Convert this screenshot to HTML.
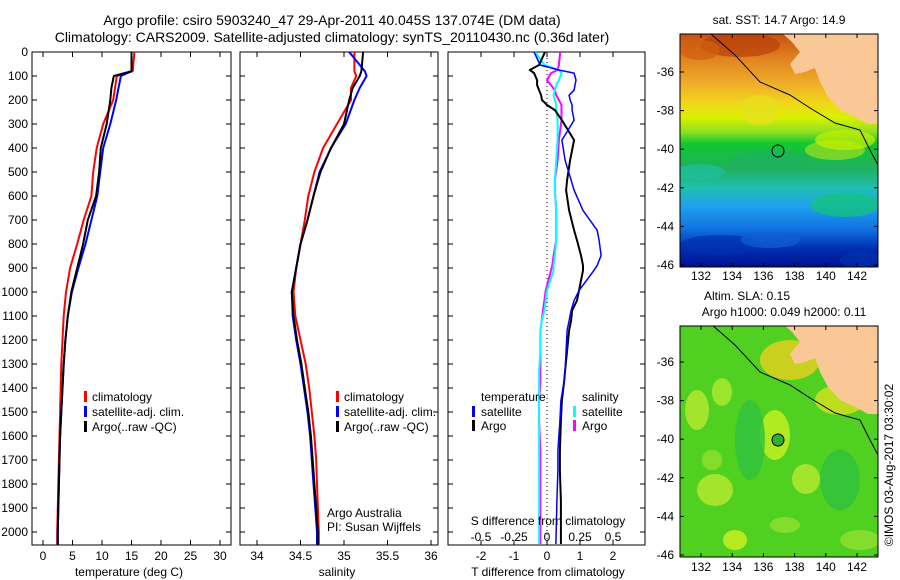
<!DOCTYPE html>
<html><head><meta charset="utf-8"><style>
html,body{margin:0;padding:0;background:#fff;width:900px;height:580px;overflow:hidden}
svg text{font-family:"Liberation Sans",sans-serif;font-size:12px;fill:#000}
</style></head><body>
<svg id="fig" width="900" height="580" viewBox="0 0 900 580" xmlns="http://www.w3.org/2000/svg">
<defs>
<linearGradient id="sstg" x1="0" y1="0" x2="0" y2="1">
<stop offset="0" stop-color="#c85010"/><stop offset="0.1" stop-color="#e08020"/><stop offset="0.22" stop-color="#f0b028"/><stop offset="0.3" stop-color="#f0d818"/><stop offset="0.36" stop-color="#d8f000"/><stop offset="0.42" stop-color="#90e020"/><stop offset="0.47" stop-color="#10c830"/><stop offset="0.58" stop-color="#20b060"/><stop offset="0.66" stop-color="#20c0b0"/><stop offset="0.74" stop-color="#20a0f0"/><stop offset="0.84" stop-color="#1070e0"/><stop offset="0.92" stop-color="#0030b0"/><stop offset="1" stop-color="#001090"/>
</linearGradient>
<clipPath id="c1"><rect x="32" y="52" width="199" height="493"/></clipPath>
<clipPath id="c2"><rect x="240" y="52" width="198" height="493"/></clipPath>
<clipPath id="c3"><rect x="448" y="52" width="197" height="493"/></clipPath>
<clipPath id="m1"><rect x="680" y="34" width="198" height="233"/></clipPath>
<clipPath id="m2"><rect x="680" y="326" width="198" height="231"/></clipPath>
</defs>
<rect width="900" height="580" fill="#fff"/>
<text x="332" y="25" text-anchor="middle" style="font-size:14px">Argo profile: csiro 5903240_47 29-Apr-2011 40.045S 137.074E (DM data)</text>
<text x="332" y="42" text-anchor="middle" style="font-size:14px">Climatology: CARS2009. Satellite-adjusted climatology: synTS_20110430.nc (0.36d later)</text>
<g id="plots"></g>
<g id="maps"></g>
</svg>
<script>
// ---- profile data ----
const tDepth = [0,80,100,150,200,300,400,500,600,700,800,900,1000,1100,1200,1300,1400,1500,1600,1700,1800,1900,2000,2060];
const tempClim = [15.5,15.2,12.5,12.2,11.9,10.2,9.1,8.5,8.2,6.9,5.8,4.6,3.9,3.5,3.3,3.1,3.0,2.9,2.8,2.7,2.6,2.5,2.4,2.4];
const tempSat = [15.0,15.0,13.2,12.8,12.4,11.4,10.2,9.7,9.2,8.2,7.2,6.0,4.9,4.2,3.8,3.5,3.3,3.1,2.9,2.8,2.7,2.6,2.5,2.5];
const tempArgo = [15.0,15.0,12.0,11.6,11.4,10.8,9.8,9.5,9.0,7.6,6.8,5.8,4.8,4.2,3.8,3.5,3.3,3.1,2.9,2.8,2.7,2.6,2.5,2.5];
const salClim = [35.12,35.12,35.14,35.08,35.08,34.92,34.76,34.66,34.59,34.55,34.5,34.45,34.42,34.44,34.5,34.56,34.6,34.63,34.66,34.68,34.69,34.7,34.71,34.71];
const salSat = [35.06,35.24,35.26,35.18,35.12,35.02,34.85,34.72,34.65,34.58,34.5,34.45,34.4,34.41,34.45,34.5,34.54,34.58,34.61,34.63,34.65,34.67,34.69,34.69];
const salArgo = [35.22,35.2,35.18,35.1,35.06,35.0,34.85,34.73,34.65,34.58,34.5,34.45,34.4,34.42,34.46,34.51,34.55,34.59,34.62,34.64,34.66,34.68,34.7,34.7];
const dDepth = [0,54,75,88,117,138,159,180,200,221,242,284,367,451,534,576,660,743,785,848,889,910,994,1035,1077,1119,1161,1244,1328,1370,1453,1537,1662,1745,1871,2050];
const tDiffArgo = [-0.06,-0.24,-0.52,-0.39,-0.3,-0.3,-0.24,-0.18,-0.15,0,0.24,0.45,0.82,0.7,0.61,0.58,0.67,0.82,0.91,1.03,1.09,1.09,0.97,0.91,0.76,0.73,0.67,0.61,0.55,0.52,0.45,0.42,0.39,0.39,0.42,0.42];
const tDiffSat = [-0.39,-0.21,0.36,0.82,0.88,0.85,0.82,0.67,0.7,0.76,0.76,0.82,0.45,0.55,0.73,0.82,1.09,1.52,1.58,1.64,1.52,1.42,0.97,0.82,0.73,0.67,0.61,0.58,0.55,0.52,0.42,0.39,0.33,0.33,0.3,0.27];
const sDiffArgo = [0.1,0.09,0.08,0.03,0,0.03,0.06,0.07,0.09,0.11,0.11,0.11,0.09,0.08,0.06,0.06,0.07,0.07,0.07,0.05,0.04,0.03,-0.01,-0.02,-0.03,-0.04,-0.05,-0.05,-0.05,-0.05,-0.06,-0.06,-0.05,-0.05,-0.05,-0.05];
const sDiffSat = [-0.09,-0.02,0.09,0.11,0.09,0.07,0.06,0.05,0.06,0.07,0.07,0.08,0.08,0.07,0.06,0.06,0.07,0.07,0.07,0.06,0.05,0.05,0,-0.01,-0.02,-0.04,-0.05,-0.05,-0.06,-0.06,-0.06,-0.06,-0.06,-0.06,-0.06,-0.06];
const depthTicks = [0,100,200,300,400,500,600,700,800,900,1000,1100,1200,1300,1400,1500,1600,1700,1800,1900,2000];
const tempTicks = [0,5,10,15,20,25,30];
const salTicks = [34,34.5,35,35.5,36];
const tdTicks = [-2,-1,0,1,2];
const sdTicks = [-0.5,-0.25,0,0.25,0.5];
const latTicks = [-36,-38,-40,-42,-44,-46];
const lonTicks = [132,134,136,138,140,142];

const NS="http://www.w3.org/2000/svg";
function mk(tag,attrs,parent){const e=document.createElementNS(NS,tag);for(const k in attrs)e.setAttribute(k,attrs[k]);parent.appendChild(e);return e;}
const plots=document.getElementById('plots');
const PB=545;
const yD = d => 52 + d*0.24;
const xT = t => 43 + t*5.9;
const xS = s => 257 + (s-34)*87;
const xTD = t => 547 + t*33;
const xSD = s => 547 + s*132;

function frame(name,x,w){
  const r=mk('rect',{x:x,y:52,width:w,height:PB-52,fill:'none',stroke:'#000','stroke-width':1},plots);
  
  
  depthTicks.forEach(d=>{
    mk('line',{x1:x,x2:x+5,y1:yD(d),y2:yD(d),stroke:'#000'},plots);
    mk('line',{x1:x+w-5,x2:x+w,y1:yD(d),y2:yD(d),stroke:'#000'},plots);
  });
}
function xticks(xf,ticks,labY){
  ticks.forEach(v=>{
    const x=xf(v);
    mk('line',{x1:x,x2:x,y1:PB,y2:PB-5,stroke:'#000'},plots);
    mk('line',{x1:x,x2:x,y1:52,y2:57,stroke:'#000'},plots);
    const t=mk('text',{x:x,y:labY,'text-anchor':'middle'},plots);t.textContent=String(v);
    
    
  });
}
function line(name,xs,ys,xf,color,clip,w){
  let d='';xs.forEach((v,i)=>{d+=(i?'L':'M')+xf(v).toFixed(1)+','+yD(ys[i]).toFixed(1);});
  const p=mk('path',{d:d,fill:'none',stroke:color,'stroke-width':w||2,'clip-path':'url(#'+clip+')','stroke-linejoin':'round'},plots);
  
  
}
function txt(name,x,y,s,anchor){
  const t=mk('text',{x:x,y:y,'text-anchor':anchor||'start'},plots);t.textContent=s;
  
  
  return t;
}
function legBar(x,y,c){mk('rect',{x:x,y:y-10,width:3,height:11,fill:c},plots);}

// panel 1
frame('temperature-panel',32,199);
depthTicks.forEach(d=>{txt('y-tick-label',28,yD(d)+4,String(d),'end');});
xticks(xT,tempTicks,560);
line('temp-climatology',tempClim,tDepth,xT,'#f00','c1');
line('temp-satellite',tempSat,tDepth,xT,'#00f','c1');
line('temp-argo',tempArgo,tDepth,xT,'#000','c1');
txt('x-axis-title-temperature',129,576,'temperature (deg C)','middle');
[['#f00','climatology',401],['#00f','satellite-adj. clim.',416],['#000','Argo(..raw -QC)',431]].forEach(a=>{legBar(84,a[2],a[0]);txt('legend-entry',92,a[2],a[1]);});

// panel 2
frame('salinity-panel',240,198);
xticks(xS,salTicks,560);
line('sal-climatology',salClim,tDepth,xS,'#f00','c2');
line('sal-satellite',salSat,tDepth,xS,'#00f','c2');
line('sal-argo',salArgo,tDepth,xS,'#000','c2');
txt('x-axis-title-salinity',337,576,'salinity','middle');
[['#f00','climatology',401],['#00f','satellite-adj. clim.',416],['#000','Argo(..raw -QC)',431]].forEach(a=>{legBar(336,a[2],a[0]);txt('legend-entry',344,a[2],a[1]);});
txt('credit-text',327,517,'Argo Australia');
txt('pi-text',327,531,'PI: Susan Wijffels');

// panel 3
frame('difference-panel',448,197);
xticks(xTD,tdTicks,560);
for(let y=54;y<PB-2;y+=4){mk('rect',{x:546.5,y:y,width:1,height:1,fill:'#000'},plots);}
line('sdiff-argo',sDiffArgo,dDepth,xSD,'#f0f','c3',2);
line('sdiff-satellite',sDiffSat,dDepth,xSD,'#0ff','c3',2);
line('tdiff-argo',tDiffArgo,dDepth,xTD,'#000','c3',2);
line('tdiff-satellite',tDiffSat,dDepth,xTD,'#00f','c3',1.5);
sdTicks.forEach(v=>{txt('s-tick-label',xSD(v),541,(v===0?'0':String(v)),'middle');});
txt('s-axis-title',548,525,'S difference from climatology','middle');
txt('x-axis-title-tdiff',548,576,'T difference from climatology','middle');
txt('legend-title-temperature',481,401,'temperature');
txt('legend-title-salinity',582,401,'salinity');
legBar(472,416,'#00f');txt('legend-entry',481,416,'satellite');
legBar(472,430,'#000');txt('legend-entry',481,430,'Argo');
legBar(573,416,'#0ff');txt('legend-entry',582,416,'satellite');
legBar(573,430,'#f0f');txt('legend-entry',582,430,'Argo');

// maps
const maps=document.getElementById('maps');
function mapAxes(name,top,h,lat0y,dy,labY){
  const r=mk('rect',{x:680,y:top,width:198,height:h,fill:'none',stroke:'#000'},maps);
  
  
  latTicks.forEach(l=>{const y=lat0y+(-36-l)*dy;
    mk('line',{x1:680,x2:684,y1:y,y2:y,stroke:'#000'},maps);mk('line',{x1:874,x2:878,y1:y,y2:y,stroke:'#000'},maps);
    const t=mk('text',{x:674,y:y+4,'text-anchor':'end'},maps);t.textContent=String(l);
    
    });
  lonTicks.forEach(l=>{const x=701+(l-132)*15.6;
    mk('line',{x1:x,x2:x,y1:top+h,y2:top+h-4,stroke:'#000'},maps);mk('line',{x1:x,x2:x,y1:top,y2:top+4,stroke:'#000'},maps);
    const t=mk('text',{x:x,y:labY,'text-anchor':'middle'},maps);t.textContent=String(l);
    
    });
}
const landD = off => `M783,${34+off}L878,${34+off}L878,${124+off}L868,${124+off}L855,${117+off}L840,${110+off}L828,${97+off}L820,${82+off}L815,${68+off}L805,${72+off}L795,${74+off}L790,${64+off}L800,${52+off}L792,${42+off}Z`;
const shelfD = off => `M711,${34+off}L735,${55+off}L760,${82+off}L790,${95+off}L810,${108+off}L835,${123+off}L860,${130+off}L870,${150+off}L878,${165+off}`;
// SST map
let g1=mk('g',{'clip-path':'url(#m1)'},maps);


mk('rect',{x:680,y:34,width:198,height:233,fill:'url(#sstg)'},g1);
[[740,45,40,12,'#b84008'],[700,50,20,10,'#d06010'],[770,160,40,10,'#20b060'],[835,150,30,10,'#a0e020'],[700,172,25,8,'#20c0a0'],[845,205,35,12,'#10c870'],[720,245,40,10,'#0030b0'],[770,240,30,8,'#1060d0'],[860,260,20,8,'#0030b0'],[760,110,20,15,'#e8e020'],[845,140,30,10,'#c8f000']].forEach(b=>mk('ellipse',{cx:b[0],cy:b[1],rx:b[2],ry:b[3],fill:b[4],opacity:0.7},g1));
mk('path',{d:landD(0),fill:'#f9c896'},g1);
mk('path',{d:shelfD(0),fill:'none',stroke:'#000','stroke-width':1},g1);
mk('circle',{cx:778,cy:151,r:6,fill:'none',stroke:'#000'},maps);
mapAxes('sst-map-frame',34,233,72,19.3,280);
const t1=mk('text',{x:779,y:24,'text-anchor':'middle'},maps);t1.textContent='sat. SST: 14.7 Argo: 14.9';


// SLA map
let g2=mk('g',{'clip-path':'url(#m2)'},maps);


mk('rect',{x:680,y:326,width:198,height:231,fill:'#50d020'},g2);
[[697,410,12,20,'#b8e830'],[722,392,10,14,'#b0e830'],[775,435,15,25,'#c8f020'],[715,490,18,16,'#b8e830'],[806,479,14,15,'#b8e830'],[735,540,12,10,'#d0f020'],[785,525,15,8,'#90e030'],[750,440,15,40,'#30c040'],[840,480,20,30,'#30c040'],[860,540,20,10,'#90e030'],[712,460,10,10,'#90e030'],[790,360,30,20,'#e8d020'],[840,400,25,15,'#d8e020']].forEach(b=>mk('ellipse',{cx:b[0],cy:b[1],rx:b[2],ry:b[3],fill:b[4],opacity:0.8},g2));
mk('path',{d:landD(290),fill:'#f9c896'},g2);
mk('path',{d:shelfD(290),fill:'none',stroke:'#000'},g2);
mk('circle',{cx:778,cy:440,r:6,fill:'#30b030',stroke:'#000'},maps);
mapAxes('sla-map-frame',326,231,362,19.3,571);
const t2=mk('text',{x:747,y:300,'text-anchor':'middle'},maps);t2.textContent='Altim. SLA: 0.15';


const t3=mk('text',{x:784,y:316,'text-anchor':'middle'},maps);t3.textContent='Argo h1000: 0.049 h2000: 0.11';


const t4=mk('text',{x:0,y:0,'text-anchor':'middle',transform:'translate(893,465) rotate(-90)'},maps);t4.textContent='©IMOS 03-Aug-2017 03:30:02';


</script>
</body></html>
